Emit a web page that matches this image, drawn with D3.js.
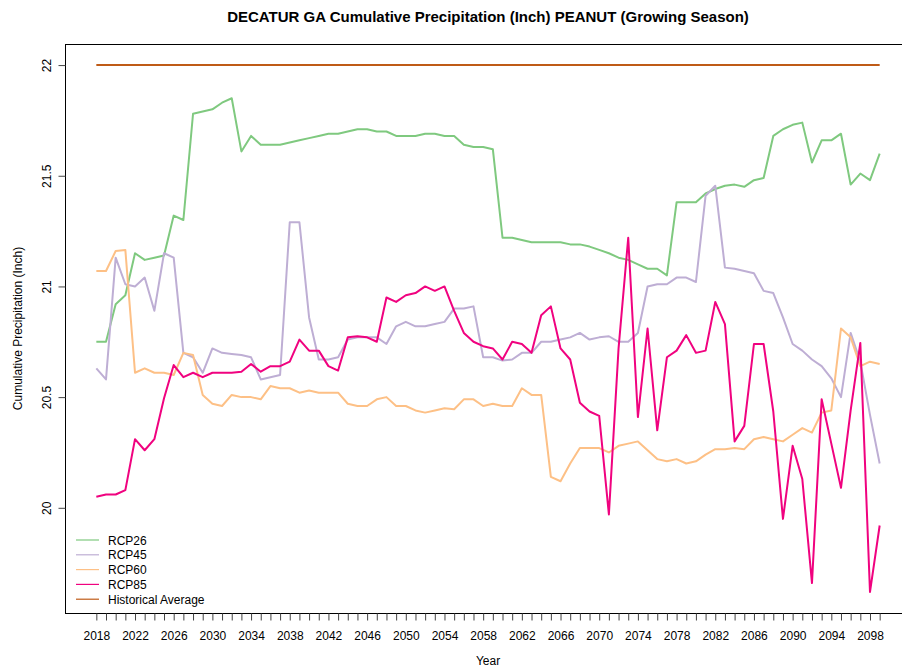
<!DOCTYPE html>
<html lang="en">
<head>
<meta charset="utf-8">
<title>DECATUR GA Cumulative Precipitation</title>
<script src="https://cdn.jsdelivr.net/npm/d3@7"></script>
<style>
  body { margin: 0; background: #fff; }
  text { font-family: "Liberation Sans", Arial, sans-serif; fill: #000; }
</style>
</head>
<body>
<script>

var years = [2018,2019,2020,2021,2022,2023,2024,2025,2026,2027,2028,2029,2030,2031,2032,2033,2034,2035,2036,2037,
             2038,2039,2040,2041,2042,2043,2044,2045,2046,2047,2048,2049,2050,2051,2052,2053,2054,2055,2056,2057,
             2058,2059,2060,2061,2062,2063,2064,2065,2066,2067,2068,2069,2070,2071,2072,2073,2074,2075,2076,2077,
             2078,2079,2080,2081,2082,2083,2084,2085,2086,2087,2088,2089,2090,2091,2092,2093,2094,2095,2096,2097,
             2098,2099];

var rcp26 = [20.75,20.75,20.92,20.96,21.15,21.12,21.13,21.14,21.32,21.30,21.78,21.79,21.80,21.83,21.85,21.61,21.68,21.64,21.64,21.64,
             21.65,21.66,21.67,21.68,21.69,21.69,21.70,21.71,21.71,21.70,21.70,21.68,21.68,21.68,21.69,21.69,21.68,21.68,21.64,21.63,
             21.63,21.62,21.22,21.22,21.21,21.20,21.20,21.20,21.20,21.19,21.19,21.18,21.165,21.15,21.13,21.12,21.10,21.08,21.08,21.05,
             21.38,21.38,21.38,21.42,21.44,21.455,21.46,21.45,21.48,21.49,21.68,21.71,21.73,21.74,21.56,21.66,21.66,21.69,21.46,21.51,
             21.48,21.60];

var rcp45 = [20.63,20.58,21.13,21.01,21.00,21.04,20.89,21.15,21.13,20.70,20.68,20.61,20.72,20.70,20.695,20.69,20.68,20.58,20.59,20.60,
             21.29,21.29,20.86,20.67,20.67,20.68,20.76,20.77,20.77,20.77,20.74,20.82,20.84,20.82,20.82,20.83,20.84,20.90,20.90,20.91,
             20.68,20.68,20.665,20.67,20.70,20.70,20.75,20.75,20.76,20.77,20.79,20.76,20.77,20.775,20.75,20.75,20.79,21.00,21.01,21.01,
             21.04,21.04,21.02,21.41,21.455,21.085,21.08,21.07,21.06,20.98,20.97,20.86,20.74,20.71,20.67,20.64,20.585,20.50,20.79,20.66,
             20.42,20.20];

var rcp60 = [21.07,21.07,21.16,21.165,20.61,20.63,20.61,20.61,20.60,20.70,20.69,20.51,20.47,20.46,20.51,20.50,20.50,20.49,20.55,20.54,
             20.54,20.52,20.53,20.52,20.52,20.52,20.47,20.46,20.46,20.49,20.50,20.46,20.46,20.44,20.43,20.44,20.45,20.445,20.49,20.49,
             20.46,20.47,20.46,20.46,20.54,20.51,20.51,20.14,20.12,20.20,20.27,20.27,20.27,20.25,20.28,20.29,20.30,20.26,20.22,20.21,
             20.22,20.20,20.21,20.24,20.265,20.265,20.27,20.265,20.31,20.32,20.31,20.30,20.33,20.36,20.34,20.43,20.44,20.81,20.77,20.64,
             20.66,20.65];

var rcp85 = [20.05,20.06,20.06,20.08,20.31,20.26,20.31,20.495,20.645,20.59,20.61,20.59,20.61,20.61,20.61,20.615,20.65,20.615,20.64,20.64,
             20.66,20.76,20.71,20.71,20.64,20.62,20.77,20.775,20.77,20.75,20.95,20.93,20.96,20.97,21.00,20.98,21.00,20.89,20.79,20.75,
             20.73,20.72,20.67,20.75,20.74,20.70,20.87,20.91,20.72,20.67,20.475,20.435,20.415,19.97,20.72,21.22,20.41,20.81,20.35,20.68,
             20.71,20.78,20.70,20.71,20.93,20.83,20.30,20.37,20.74,20.74,20.435,19.95,20.28,20.13,19.66,20.49,20.29,20.09,20.44,20.745,
             19.62,19.92];

var historical = 22.0;

var xTickLabels = [2018,2022,2026,2030,2034,2038,2042,2046,2050,2054,2058,2062,2066,2070,2074,2078,2082,2086,2090,2094,2098];
var yTicks = [20, 20.5, 21, 21.5, 22];

var seriesNames = ["RCP26", "RCP45", "RCP60", "RCP85", "Historical Average"];
var seriesColors = ["#7fc97f", "#beaed4", "#fdc086", "#f0027f", "#bf5b17"];

var width = 902,
    height = 669;

// plot box (right edge falls outside the picture)
var box = { left: 65, top: 44, right: 911, bottom: 613 };

var svg = d3.select("body").append("svg")
    .attr("width", width)
    .attr("height", height);

var allVals = rcp26.concat(rcp45, rcp60, rcp85, [historical]);
var yMin = d3.min(allVals), yMax = d3.max(allVals);
var yPad = (yMax - yMin) * 0.04;
var xPad = (years[years.length - 1] - years[0]) * 0.04;

var x = d3.scaleLinear()
    .domain([years[0] - xPad, years[years.length - 1] + xPad])
    .range([box.left, box.right]);

var y = d3.scaleLinear()
    .domain([yMin - yPad, yMax + yPad])
    .range([box.bottom, box.top]);

var line = d3.line()
    .x(function(d, i) { return x(years[i]); })
    .y(function(d) { return y(d); });

var seriesData = [rcp26, rcp45, rcp60, rcp85, years.map(function() { return historical; })];

svg.append("g")
    .selectAll("path")
    .data(seriesData)
    .enter().append("path")
    .attr("d", line)
    .attr("fill", "none")
    .attr("stroke", function(d, i) { return seriesColors[i]; })
    .attr("stroke-width", 2)
    .attr("stroke-linejoin", "round");

// box
svg.append("rect")
    .attr("x", box.left + 0.5)
    .attr("y", box.top + 0.5)
    .attr("width", box.right - box.left)
    .attr("height", box.bottom - box.top)
    .attr("fill", "none")
    .attr("stroke", "#000")
    .attr("stroke-width", 1);

// x axis
var xAxis = svg.append("g")
    .attr("transform", "translate(0," + (box.bottom + 0.5) + ")")
    .call(d3.axisBottom(x)
        .tickValues(years)
        .tickSize(7)
        .tickPadding(11)
        .tickFormat(function(d) { return xTickLabels.indexOf(d) >= 0 ? d : ""; }));
xAxis.select(".domain").remove();
xAxis.selectAll("line").attr("stroke", "#444");
xAxis.selectAll("text")
    .style("font-size", "12px")
    .style("font-family", "'Liberation Sans', Arial, sans-serif")
    .attr("fill", "#000");

// y axis
var yAxis = svg.append("g")
    .attr("transform", "translate(" + (box.left + 0.5) + ",0)")
    .call(d3.axisLeft(y)
        .tickValues(yTicks)
        .tickSize(7)
        .tickFormat(d3.format("")));
yAxis.select(".domain").remove();
yAxis.selectAll("line").attr("stroke", "#444");
yAxis.selectAll("text")
    .attr("transform", "rotate(-90)")
    .attr("x", 0)
    .attr("y", -15)
    .attr("dy", 0)
    .style("text-anchor", "middle")
    .style("font-size", "12px")
    .style("font-family", "'Liberation Sans', Arial, sans-serif")
    .attr("fill", "#000");

// title and axis labels
var title = svg.append("text")
    .attr("x", (box.left + box.right) / 2)
    .attr("y", 22)
    .attr("text-anchor", "middle")
    .attr("font-weight", "bold")
    .style("font-size", "14px")
    .text("DECATUR GA Cumulative Precipitation (Inch) PEANUT (Growing Season)");
var tw = title.node().getComputedTextLength();
title.style("font-size", (14 * 522 / tw) + "px");

svg.append("text")
    .attr("x", (box.left + box.right) / 2)
    .attr("y", 665)
    .attr("text-anchor", "middle")
    .style("font-size", "12px")
    .text("Year");

svg.append("text")
    .attr("transform", "translate(22," + ((box.top + box.bottom) / 2) + ") rotate(-90)")
    .attr("text-anchor", "middle")
    .style("font-size", "12px")
    .text("Cumulative Precipitation (Inch)");

// legend
var legend = svg.append("g")
    .attr("transform", "translate(76,540)");

var item = legend.selectAll("g")
    .data(seriesNames)
    .enter().append("g")
    .attr("transform", function(d, i) { return "translate(0," + (i * 14.8) + ")"; });

item.append("line")
    .attr("x1", 0)
    .attr("x2", 23)
    .attr("stroke", function(d, i) { return seriesColors[i]; })
    .attr("stroke-width", 1.2);

item.append("text")
    .attr("x", 32)
    .attr("y", 4.5)
    .style("font-size", "12px")
    .text(function(d) { return d; });

</script>
</body>
</html>
